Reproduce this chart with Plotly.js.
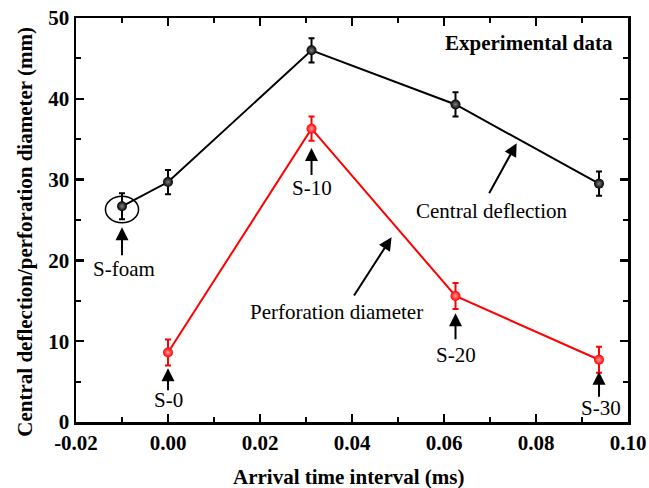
<!DOCTYPE html>
<html>
<head>
<meta charset="utf-8">
<script src="https://cdn.plot.ly/plotly-3.0.1.min.js"></script>
<style>
  html, body { margin: 0; padding: 0; background: #fff; }
  #chart { width: 649px; height: 488px; }
</style>
</head>
<body>
<div id="chart"></div>
<script>
// Arrival time interval (ms) for each specimen
const deflectionTime = [-0.01, 0, 0.0312, 0.0625, 0.0937];
const deflectionValue = [26.7, 29.7, 46.0, 39.3, 29.5];
const deflectionError = [1.6, 1.5, 1.5, 1.5, 1.5];

const perforationTime = [0, 0.0312, 0.0625, 0.0937];
const perforationValue = [8.6, 36.3, 15.6, 7.7];
const perforationError = [1.6, 1.5, 1.6, 1.6];

const specimenLabels = ['S-foam', 'S-0', 'S-10', 'S-20', 'S-30'];

// x-axis ticks, written with a plain hyphen for the negative value
const xTickValues = [-0.02, 0, 0.02, 0.04, 0.06, 0.08, 0.10];
const xTickLabels = ['-0.02', '0.00', '0.02', '0.04', '0.06', '0.08', '0.10'];

const serif = '"Liberation Serif", "Times New Roman", serif';

const traces = [
  {
    x: deflectionTime, y: deflectionValue, type: 'scatter', mode: 'lines+markers',
    name: 'Central deflection',
    line: { color: '#000', width: 2 },
    marker: { size: 10, color: '#000', gradient: { type: 'radial', color: '#808080' } },
    error_y: { type: 'data', array: deflectionError, visible: true, color: '#000', thickness: 2, width: 3 }
  },
  {
    x: perforationTime, y: perforationValue, type: 'scatter', mode: 'lines+markers',
    name: 'Perforation diameter',
    line: { color: '#ff0000', width: 2 },
    marker: { size: 10, color: '#ff0000', gradient: { type: 'radial', color: '#ff9a9a' } },
    error_y: { type: 'data', array: perforationError, visible: true, color: '#ff0000', thickness: 2, width: 3 }
  }
];

// arrow-only annotation pointing at (x, y), tail offset (ax, ay) in px
function arrow(x, y, ax, ay) {
  return {
    x: x, y: y, xref: 'x', yref: 'y', ax: ax, ay: ay,
    text: ' ', font: { size: 1 }, borderpad: 0,
    showarrow: true, arrowhead: 2, arrowsize: 1.3, arrowwidth: 2, arrowcolor: '#000',
    standoff: 0, startstandoff: 0
  };
}
function label(x, y, text) {
  return {
    x: x, y: y, xref: 'x', yref: 'y', text: text, showarrow: false,
    xanchor: 'center', yanchor: 'middle',
    font: { family: serif, size: 21, color: '#000' }
  };
}

const annotations = [
  arrow(-0.01, 24.1, 0, 29),
  label(-0.0095, 18.9, specimenLabels[0]),
  arrow(0, 6.65, 0, 23),
  label(0.0001, 2.7, specimenLabels[1]),
  arrow(0.0312, 33.9, 0, 28),
  label(0.0314, 29.0, specimenLabels[2]),
  arrow(0.0625, 13.45, 0, 27),
  label(0.0625, 8.3, specimenLabels[3]),
  arrow(0.0937, 6.23, 0, 26),
  label(0.0942, 1.7, specimenLabels[4]),
  arrow(0.0758, 34.5, -28, 51),
  label(0.0705, 26.15, 'Central deflection'),
  arrow(0.0486, 22.86, -38, 59),
  label(0.0367, 13.65, 'Perforation diameter'),
  label(0.0784, 46.87, '<b>Experimental data</b>'),
  {
    xref: 'paper', yref: 'paper', x: -0.094, y: 0.4715, textangle: -90,
    text: '<b>Central deflection/perforation diameter (mm)</b>', showarrow: false,
    xanchor: 'center', yanchor: 'middle',
    font: { family: serif, size: 21, color: '#000' }
  },
  {
    xref: 'paper', yref: 'paper', x: 0.4946, y: -0.136,
    text: '<b>Arrival time interval (ms)</b>', showarrow: false,
    xanchor: 'center', yanchor: 'middle',
    font: { family: serif, size: 21, color: '#000' }
  }
];

const axisCommon = {
  showgrid: false, zeroline: false,
  showline: true, linecolor: '#000', linewidth: 2.5, mirror: 'allticks',
  ticks: 'inside', ticklen: 8, tickwidth: 2.5, tickcolor: '#000',
  tickfont: { family: serif, size: 21, color: '#000', weight: 'bold' }
};

const layout = {
  width: 649, height: 488,
  margin: { l: 76, r: 21, t: 18, b: 66 },
  paper_bgcolor: '#fff', plot_bgcolor: '#fff',
  showlegend: false,
  xaxis: Object.assign({}, axisCommon, {
    range: [-0.02, 0.10], tickmode: 'array', tickvals: xTickValues, ticktext: xTickLabels,
    minor: { dtick: 0.01, tick0: 0, ticks: 'inside', ticklen: 5, tickwidth: 2, tickcolor: '#000' }
  }),
  yaxis: Object.assign({}, axisCommon, {
    range: [0, 50], dtick: 10, tick0: 0,
    minor: { dtick: 5, ticks: 'inside', ticklen: 5, tickwidth: 2, tickcolor: '#000' }
  }),
  shapes: [
    { type: 'circle', xref: 'x', yref: 'y', x0: -0.0136, x1: -0.0064, y0: 24.65, y1: 27.95,
      line: { color: '#000', width: 1.5 } }
  ],
  annotations: annotations
};

Plotly.newPlot('chart', traces, layout, { displayModeBar: false, staticPlot: true });
</script>
</body>
</html>
